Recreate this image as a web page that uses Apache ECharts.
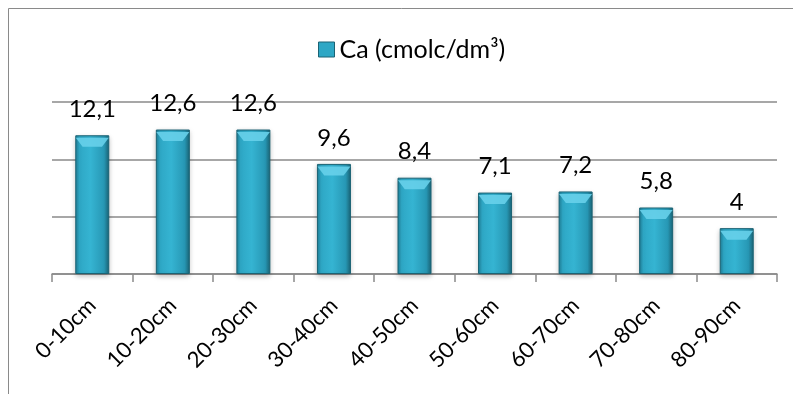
<!DOCTYPE html>
<html>
<head>
<meta charset="utf-8">
<script src="https://cdn.jsdelivr.net/npm/echarts@6/dist/echarts.min.js"></script>
<style>
  html, body { margin: 0; padding: 0; background: #fff; }
  #main { width: 793px; height: 394px; }
</style>
</head>
<body>
<div id="main"></div>
<script>
// soil depth layers and Ca values
var depths = ['0-10cm', '10-20cm', '20-30cm', '30-40cm', '40-50cm', '50-60cm', '60-70cm', '70-80cm', '80-90cm'];
var caValues = [12.1, 12.6, 12.6, 9.6, 8.4, 7.1, 7.2, 5.8, 4];
var seriesName = 'Ca (cmolc/dm³)';

var chart = echarts.init(document.getElementById('main'));

var barFill = new echarts.graphic.LinearGradient(0, 0, 1, 0, [
  { offset: 0, color: '#1f7f98' },
  { offset: 0.12, color: '#2ea7c5' },
  { offset: 0.45, color: '#35b4d2' },
  { offset: 0.85, color: '#2797b4' },
  { offset: 1, color: '#1a6577' }
]);

chart.setOption({
  animation: false,
  textStyle: { fontFamily: 'Lato' },
  graphic: [{
    type: 'rect',
    shape: { x: 8.5, y: 8.5, width: 800, height: 400 },
    style: { fill: 'none', stroke: '#8a8a8a', lineWidth: 1 },
    silent: true
  }],
  legend: {
    top: 32,
    left: 313,
    itemWidth: 16,
    itemHeight: 15,
    itemGap: 6,
    textStyle: { fontSize: 25, color: '#000', fontFamily: 'Lato' },
    data: [{ name: seriesName, icon: 'rect', itemStyle: { color: '#2ea7c5', borderColor: '#1b6374', borderWidth: 1 } }]
  },
  grid: { left: 52, right: 16, top: 102, bottom: 120, containLabel: false },
  xAxis: {
    type: 'category',
    data: depths,
    axisLine: { lineStyle: { color: '#8a8a8a', width: 1.5 } },
    axisTick: { show: true, length: 8, alignWithLabel: false, lineStyle: { color: '#8a8a8a', width: 1.5 } },
    axisLabel: { rotate: 45, fontSize: 22, color: '#000', margin: 28, interval: 0, fontFamily: 'Lato' }
  },
  yAxis: {
    type: 'value',
    min: 0,
    max: 15,
    interval: 5,
    axisLine: { show: false },
    axisTick: { show: false },
    axisLabel: { show: false },
    splitLine: { lineStyle: { color: '#8a8a8a', width: 1.5 } }
  },
  series: [{
    name: seriesName,
    type: 'bar',
    data: caValues,
    barWidth: 34,
    itemStyle: {
      color: barFill,
      borderColor: '#1b6374',
      borderWidth: 1,
      shadowColor: 'rgba(0,0,0,0.25)',
      shadowBlur: 5,
      shadowOffsetY: 2
    },
    label: {
      show: true,
      position: 'top',
      distance: 14,
      fontSize: 24,
      color: '#000',
      fontFamily: 'Lato',
      formatter: function (p) { return String(p.value).replace('.', ','); }
    }
  }, {
    // light bevel on the top of each bar
    name: 'bevel',
    type: 'pictorialBar',
    data: caValues,
    barGap: '-100%',
    symbol: 'path://M0,0 L34,0 L27,9 L7,9 Z',
    symbolSize: [33, 9],
    symbolPosition: 'end',
    symbolOffset: [0, '28%'],
    itemStyle: { color: '#67d0ea', opacity: 0.9 },
    silent: true,
    z: 3
  }]
});
</script>
</body>
</html>
